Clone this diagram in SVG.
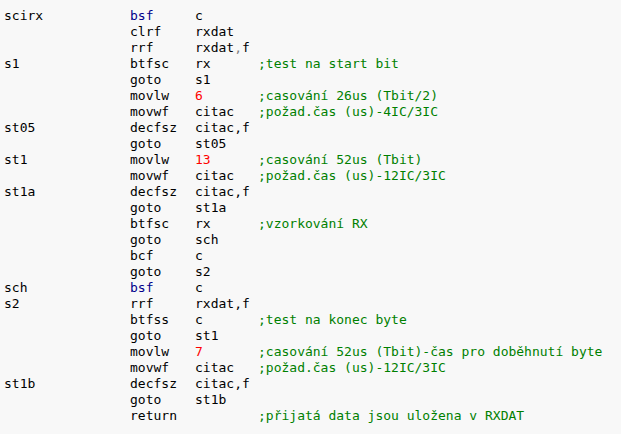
<svg xmlns="http://www.w3.org/2000/svg" width="621" height="434" viewBox="0 0 621 434">
<style>
.k{fill:#00008b}.n{fill:#ff0000}.c{fill:#008000}.g{fill:#808080}
</style>
<rect width="621" height="434" fill="#f8f8f8"/>
<g id="code" font-family="'DejaVu Sans Mono', 'Liberation Mono', monospace" font-size="13" fill="#000">
<text x="4" y="20">scirx</text><text x="130" y="20" class="k">bsf</text><text x="195" y="20">c</text>
<text x="130" y="36">clrf</text><text x="195" y="36">rxdat</text>
<text x="130" y="52">rrf</text><text x="195" y="52">rxdat<tspan class="g">,</tspan>f</text>
<text x="4" y="68">s1</text><text x="130" y="68">btfsc</text><text x="195" y="68">rx</text><text x="258" y="68" class="c">;test na start bit</text>
<text x="130" y="84">goto</text><text x="195" y="84">s1</text>
<text x="130" y="100">movlw</text><text x="195" y="100" class="n">6</text><text x="258" y="100" class="c">;casování 26us (Tbit/2)</text>
<text x="130" y="116">movwf</text><text x="195" y="116">citac</text><text x="258" y="116" class="c">;požad.čas (us)-4IC/3IC</text>
<text x="4" y="132">st05</text><text x="130" y="132">decfsz</text><text x="195" y="132">citac,f</text>
<text x="130" y="148">goto</text><text x="195" y="148">st05</text>
<text x="4" y="164">st1</text><text x="130" y="164">movlw</text><text x="195" y="164" class="n">13</text><text x="258" y="164" class="c">;casování 52us (Tbit)</text>
<text x="130" y="180">movwf</text><text x="195" y="180">citac</text><text x="258" y="180" class="c">;požad.čas (us)-12IC/3IC</text>
<text x="4" y="196">st1a</text><text x="130" y="196">decfsz</text><text x="195" y="196">citac,f</text>
<text x="130" y="212">goto</text><text x="195" y="212">st1a</text>
<text x="130" y="228">btfsc</text><text x="195" y="228">rx</text><text x="258" y="228" class="c">;vzorkování RX</text>
<text x="130" y="244">goto</text><text x="195" y="244">sch</text>
<text x="130" y="260">bcf</text><text x="195" y="260">c</text>
<text x="130" y="276">goto</text><text x="195" y="276">s2</text>
<text x="4" y="292">sch</text><text x="130" y="292" class="k">bsf</text><text x="195" y="292">c</text>
<text x="4" y="308">s2</text><text x="130" y="308">rrf</text><text x="195" y="308">rxdat,f</text>
<text x="130" y="324">btfss</text><text x="195" y="324">c</text><text x="258" y="324" class="c">;test na konec byte</text>
<text x="130" y="340">goto</text><text x="195" y="340">st1</text>
<text x="130" y="356">movlw</text><text x="195" y="356" class="n">7</text><text x="258" y="356" class="c">;casování 52us (Tbit)-čas pro doběhnutí byte</text>
<text x="130" y="372">movwf</text><text x="195" y="372">citac</text><text x="258" y="372" class="c">;požad.čas (us)-12IC/3IC</text>
<text x="4" y="388">st1b</text><text x="130" y="388">decfsz</text><text x="195" y="388">citac,f</text>
<text x="130" y="404">goto</text><text x="195" y="404">st1b</text>
<text x="130" y="420">return</text><text x="258" y="420" class="c">;přijatá data jsou uložena v RXDAT</text>
</g>
</svg>
